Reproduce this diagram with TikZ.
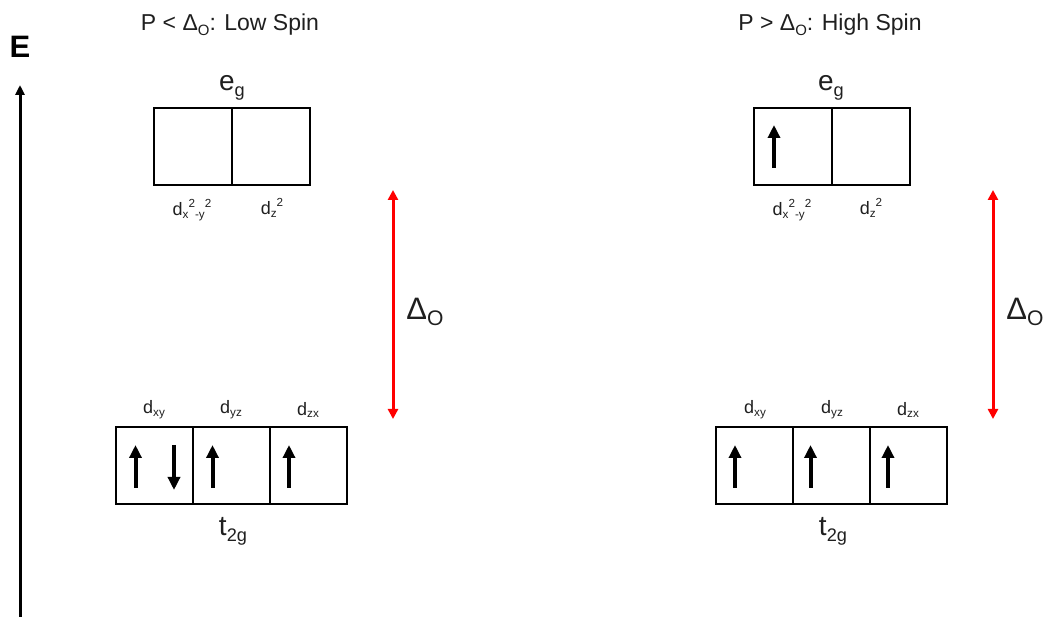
\documentclass[tikz,border=0pt]{standalone}
\usepackage{fontspec}
\setmainfont{Liberation Sans}
\usepackage{graphicx}
\usetikzlibrary{arrows.meta,calc}
\newcommand\lsub[2][0.65]{\raisebox{-0.22em}{\scalebox{#1}{#2}}}
\newcommand\osub[2][0.65]{\raisebox{-0.16em}{\scalebox{#1}{#2}}}
\newcommand\lsup[2][0.65]{\raisebox{0.45em}{\scalebox{#1}{#2}}}
\begin{document}
\begin{tikzpicture}[x=1pt,y=-1pt,
  box/.style={draw, line width=2.6pt, minimum width=77pt, minimum height=77pt, inner sep=0pt, outer sep=0pt},
  spin/.style={line width=4pt, -{Triangle[width=12pt,length=13pt]}},
  gap/.style={draw=red, line width=3pt, {Triangle[width=10pt,length=10pt]}-{Triangle[width=10pt,length=10pt]}},
  axis/.style={line width=3pt, -{Triangle[width=9pt,length=10pt]}},
  title/.style={font=\fontsize{23}{27}\selectfont, inner sep=0pt, text=black!88},
  level/.style={font=\fontsize{28}{32}\selectfont, inner sep=0pt, text=black!88},
  orb/.style={font=\fontsize{18}{22}\selectfont, inner sep=0pt, text=black!88},
  delta/.style={font=\fontsize{31}{35}\selectfont, inner sep=0pt, text=black!88},
  elabel/.style={font=\fontsize{31}{35}\selectfont\bfseries, inner sep=0pt}
]
\useasboundingbox (0,0) rectangle (1045,617);

% energy axis
\node[elabel] (E) at (20,47) {E};
\coordinate (axb) at (20,617);
\coordinate (axt) at (20,85);
\draw[axis] (axb) -- (axt);

% titles
\node[title] (tL) at (230,25) {P < Δ\lsub{O}: Low Spin};
\node[title] (tR) at (830,25) {P > Δ\lsub{O}: High Spin};

% ---------- Low spin ----------
\node[box, minimum width=78pt] (LE1) at (193,146.5) {};
\node[box, minimum width=78pt] (LE2) at (271,146.5) {};
\node[level] (Leg) at (232,88) {e\lsub{g}};
\node[orb] (LEl1) at (192,210) {d\osub{x}\lsup{2}\osub{-y}\lsup{2}};
\node[orb] (LEl2) at (272,208) {d\osub{z}\lsup{2}};

\node[box] (LT1) at (154.5,465.5) {};
\node[box] (LT2) at (231.5,465.5) {};
\node[box] (LT3) at (308.5,465.5) {};
\node[orb] (LTl1) at (154,410) {d\osub{xy}};
\node[orb] (LTl2) at (231,410) {d\osub{yz}};
\node[orb] (LTl3) at (308,410) {d\osub{zx}};
\node[level] (Lt2g) at (233,531) {t\lsub{2g}};

\draw[spin] ($(LT1.south west)+(19.5,-16)$) -- ++(0,-43);
\draw[spin] ($(LT1.north west)+(58,18)$) -- ++(0,45);
\draw[spin] ($(LT2.south west)+(19.5,-16)$) -- ++(0,-43);
\draw[spin] ($(LT3.south west)+(19,-16)$) -- ++(0,-43);

\coordinate (gLt) at (393,190);
\coordinate (gLb) at (393,419);
\draw[gap] (gLt) -- (gLb);
\node[delta] (dL) at (425,312) {Δ\lsub[0.68]{O}};

% ---------- High spin ----------
\node[box, minimum width=78pt] (RE1) at (793,146.5) {};
\node[box, minimum width=78pt] (RE2) at (871,146.5) {};
\node[level] (Reg) at (831,88) {e\lsub{g}};
\node[orb] (REl1) at (792,210) {d\osub{x}\lsup{2}\osub{-y}\lsup{2}};
\node[orb] (REl2) at (871,208) {d\osub{z}\lsup{2}};
\draw[spin] ($(RE1.south west)+(20,-17)$) -- ++(0,-43);

\node[box] (RT1) at (754.5,465.5) {};
\node[box] (RT2) at (831.5,465.5) {};
\node[box] (RT3) at (908.5,465.5) {};
\node[orb] (RTl1) at (755,410) {d\osub{xy}};
\node[orb] (RTl2) at (832,410) {d\osub{yz}};
\node[orb] (RTl3) at (908,410) {d\osub{zx}};
\node[level] (Rt2g) at (833,531) {t\lsub{2g}};

\draw[spin] ($(RT1.south west)+(19,-16)$) -- ++(0,-43);
\draw[spin] ($(RT2.south west)+(17.5,-16)$) -- ++(0,-43);
\draw[spin] ($(RT3.south west)+(18,-16)$) -- ++(0,-43);

\coordinate (gRt) at (993,190);
\coordinate (gRb) at (993,419);
\draw[gap] (gRt) -- (gRb);
\node[delta] (dR) at (1025,312) {Δ\lsub[0.68]{O}};
\end{tikzpicture}
\end{document}
